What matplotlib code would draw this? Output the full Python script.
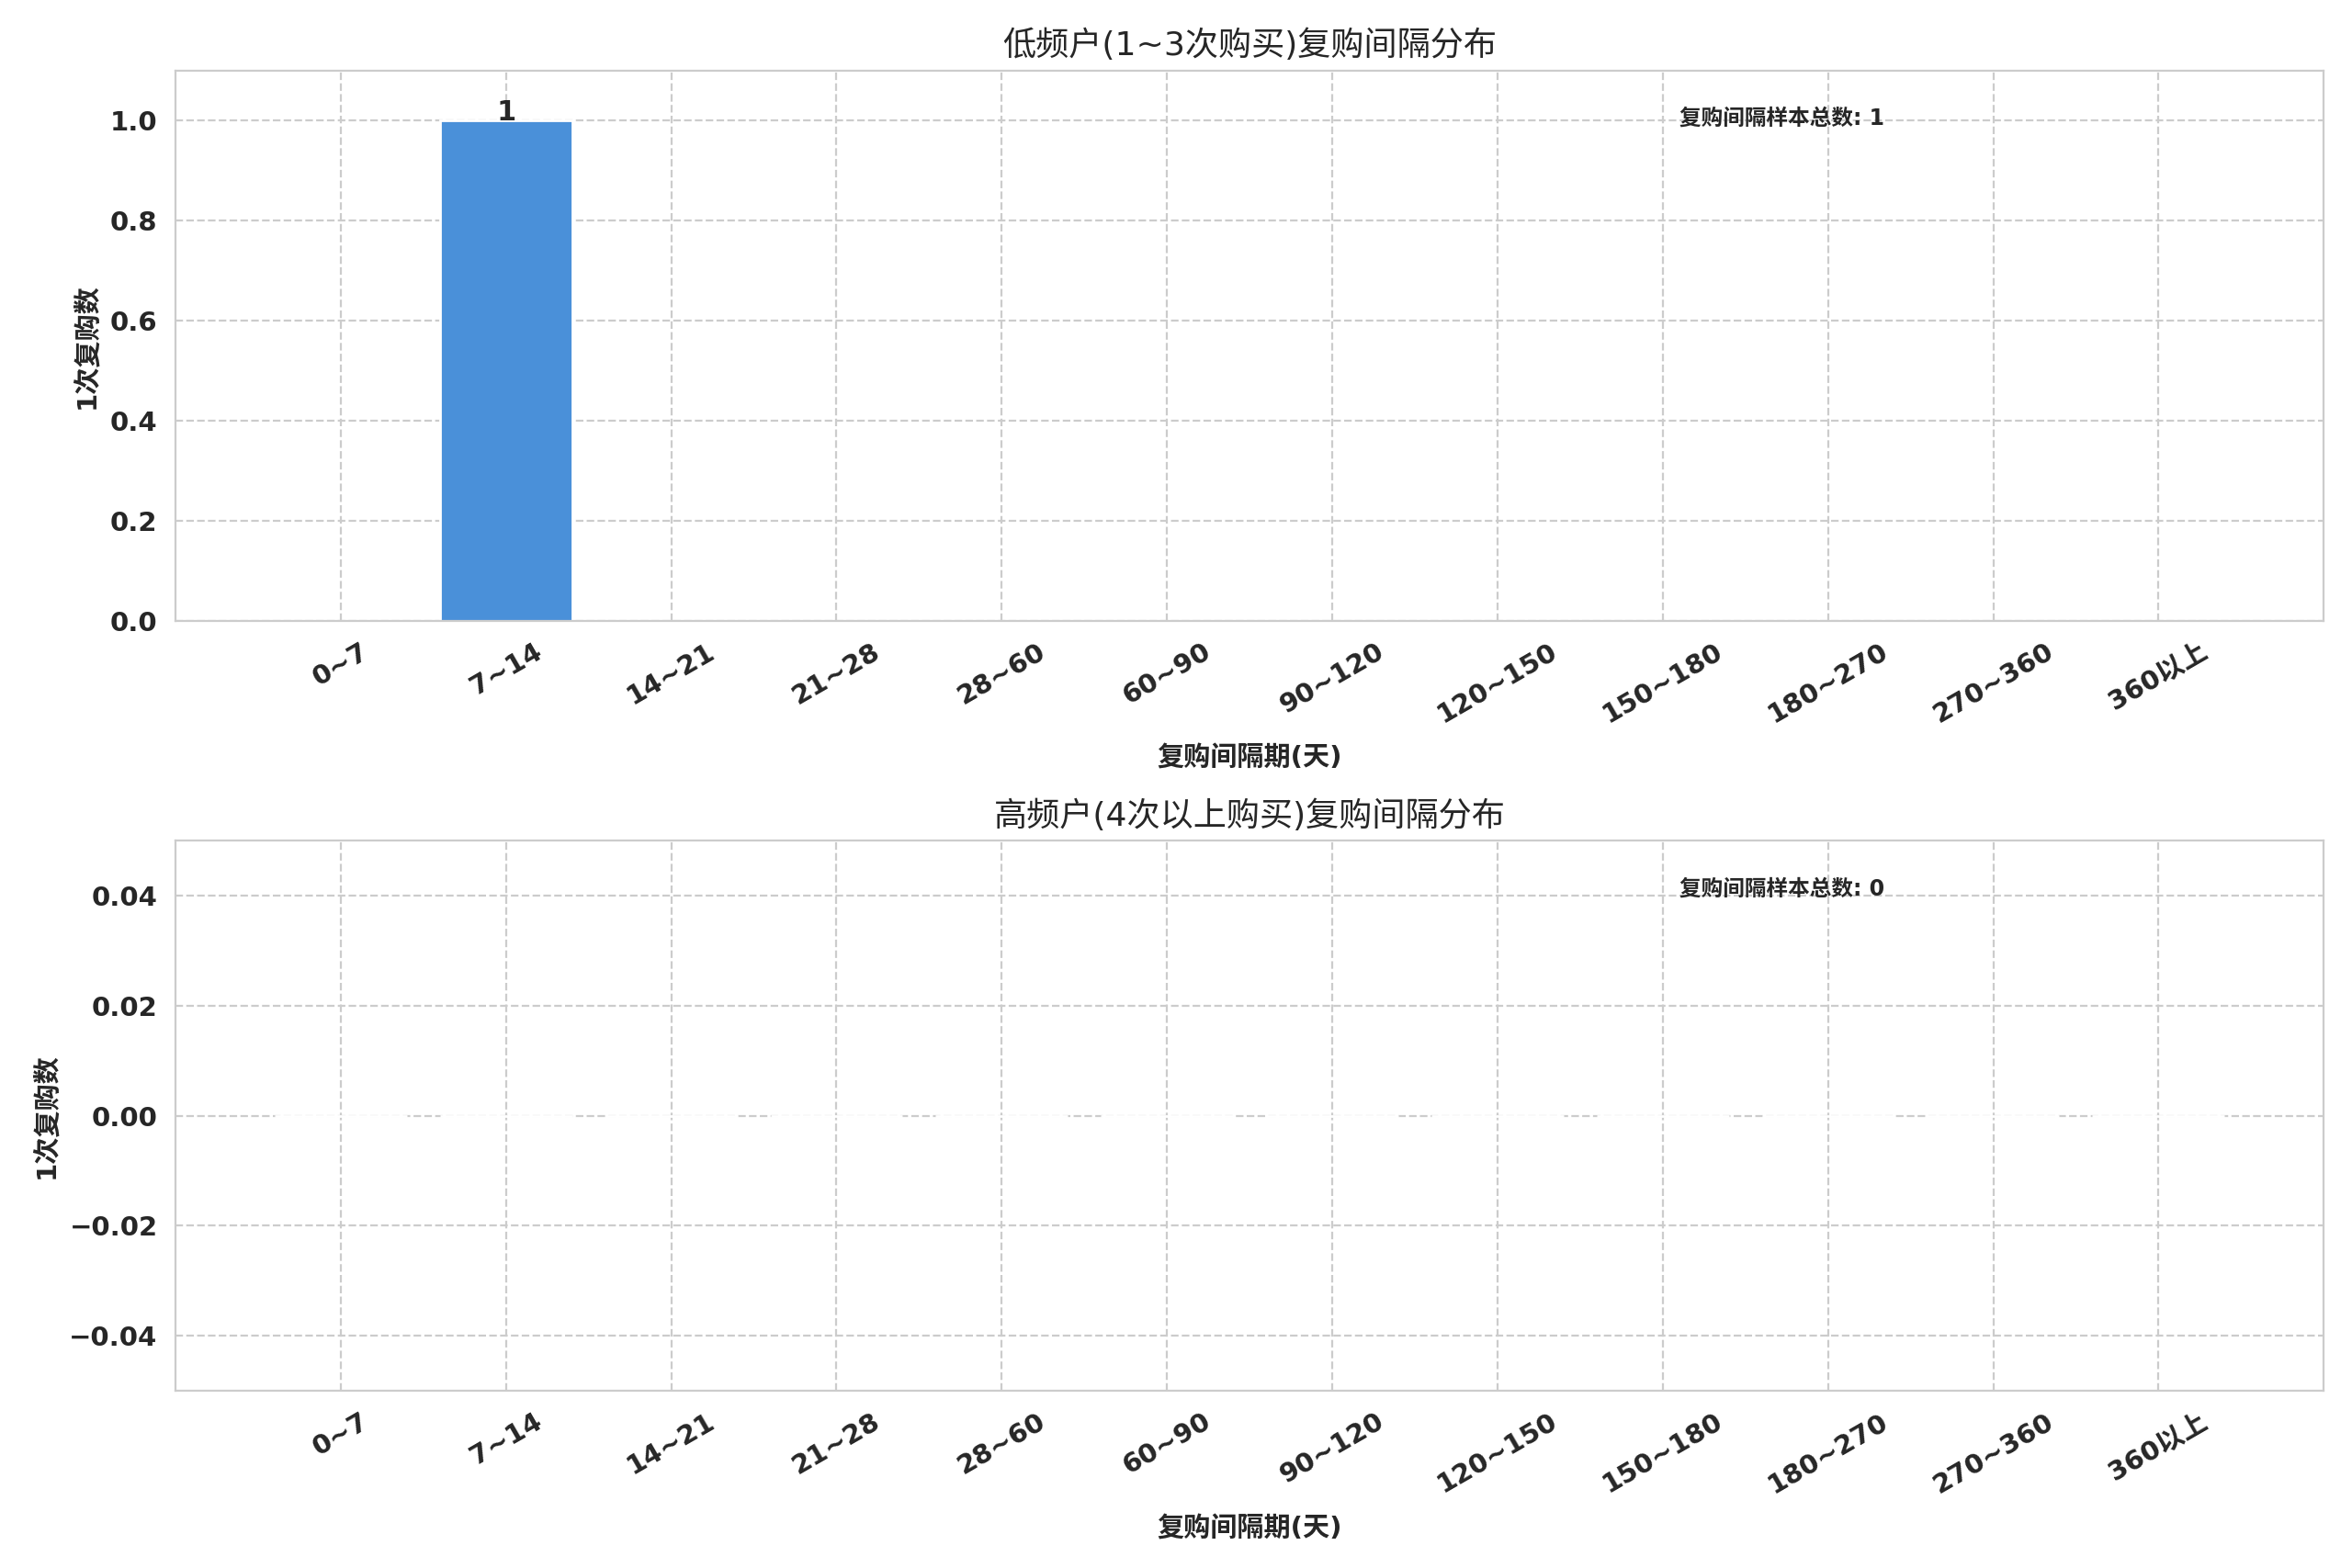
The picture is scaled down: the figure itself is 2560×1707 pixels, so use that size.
import matplotlib

matplotlib.use("Agg")
import matplotlib.pyplot as plt
import numpy as np
import seaborn as sns

# 复购间隔区间
categories = ["0~7", "7~14", "14~21", "21~28", "28~60", "60~90", "90~120",
              "120~150", "150~180", "180~270", "270~360", "360以上"]
low_counts = [0, 1, 0, 0, 0, 0, 0, 0, 0, 0, 0, 0]
high_counts = [0, 0, 0, 0, 0, 0, 0, 0, 0, 0, 0, 0]
titles = ["低频户(1~3次购买)复购间隔分布", "高频户(4次以上购买)复购间隔分布"]

sns.set_style("whitegrid", {"grid.linestyle": "--"})
plt.rcParams["font.family"] = ["DejaVu Sans", "Noto Sans CJK SC"]
plt.rcParams["axes.unicode_minus"] = True

fig, axes = plt.subplots(2, 1, figsize=(12.8, 8.535))
fig.subplots_adjust(left=0.0746, right=0.988, top=0.955, bottom=0.113, hspace=0.40)

x = np.arange(len(categories))
for ax, counts, title in zip(axes, [low_counts, high_counts], titles):
    bars = ax.bar(x, counts, width=0.8, color="#4a90d9")
    for b, v in zip(bars, counts):
        if v > 0:
            ax.text(b.get_x() + b.get_width() / 2, v, f"{v}", ha="center",
                    va="baseline", fontsize=11, fontweight="bold")
    peak = max(counts)
    if peak > 0:
        ax.set_ylim(0, peak * 1.1)
    else:
        ax.set_ylim(-0.05, 0.05)
    ax.set_xlim(-1, len(categories))
    ax.set_xticks(x)
    ax.set_xticklabels(categories, rotation=30, fontsize=10.5, fontweight="bold")
    for lab in ax.get_yticklabels():
        lab.set_fontweight("bold")
        lab.set_fontsize(10.5)
    ax.set_title(title, fontsize=13)
    ax.set_xlabel("复购间隔期(天)", fontsize=10.5, fontweight="bold", labelpad=7)
    ax.set_ylabel("1次复购数", fontsize=10.5, fontweight="bold")
    ax.text(0.70, 0.913, f"复购间隔样本总数: {sum(counts)}", transform=ax.transAxes,
            ha="left", va="center", fontsize=8.5, fontweight="bold")

fig.savefig("out.png", dpi=200)
plt.close(fig)
